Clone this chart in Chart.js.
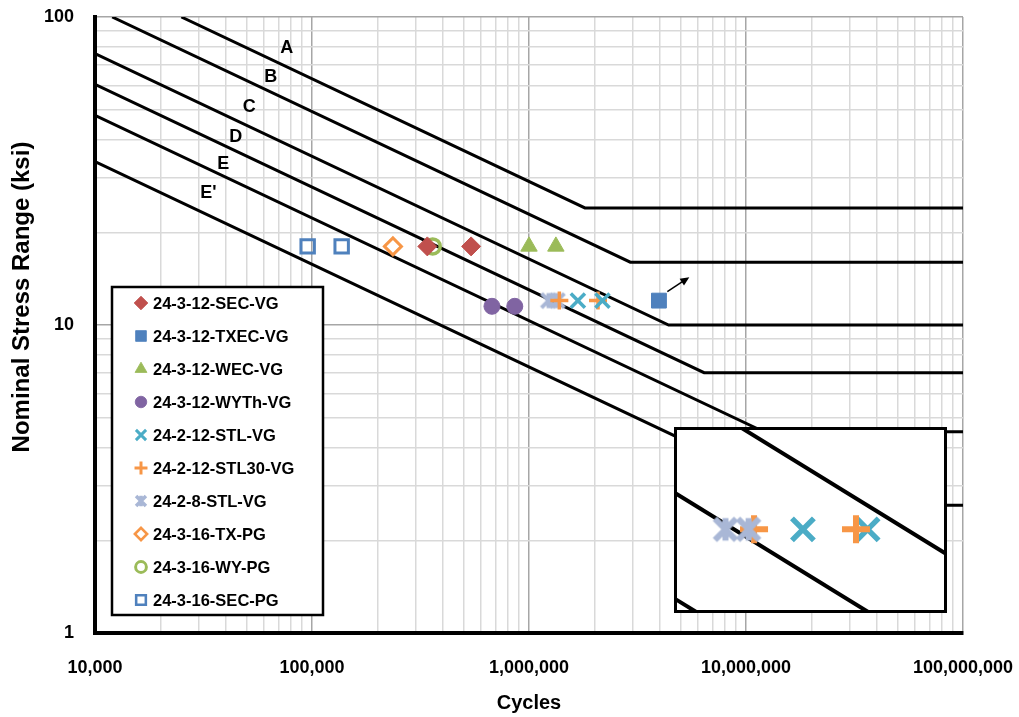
<!DOCTYPE html>
<html>
<head>
<meta charset="utf-8">
<script src="https://cdn.jsdelivr.net/npm/chart.js@4.4.1/dist/chart.umd.min.js"></script>
<style>
  body { margin: 0; background: #fff; }
  #wrap { position: relative; width: 1019px; height: 717px; }
  #inset { position: absolute; left: 674px; top: 427px; width: 273px; height: 186px; background: #fff; }
</style>
</head>
<body>
<div id="wrap">
  <canvas id="main" width="1019" height="717"></canvas>
  <div id="inset"><canvas id="zoom" width="273" height="186"></canvas></div>
</div>
<script>
// Datos: [ciclos, rango de esfuerzo (ksi)]
const secVG = [[3.4e5, 18], [5.41e5, 18]];
const txecVG = [[3.97e6, 12]];
const wecVG = [[1.0e6, 18], [1.33e6, 18]];
const wythVG = [[6.75e5, 11.5], [8.6e5, 11.5]];
const stlVG = [[1.68e6, 12], [2.18e6, 12]];
const stl30VG = [[1.38e6, 12], [2.08e6, 12]];
const stl8VG = [[1.23e6, 12], [1.35e6, 12]];
const txPG = [[2.36e5, 18]];
const wyPG = [[3.6e5, 18]];
const secPG = [[9.55e4, 18], [1.37e5, 18]];

// Curvas de fatiga por categoria (vertices)
const catA = [[2.5e4, 100], [1.81e6, 24], [1e8, 24]];
const catB = [[1.2e4, 100], [2.93e6, 16], [1e8, 16]];
const catC = [[1e4, 76.1], [4.4e6, 10], [1e8, 10]];
const catD = [[1e4, 60.4], [6.41e6, 7], [1e8, 7]];
const catE = [[1e4, 47.9], [1.21e7, 4.5], [1e8, 4.5]];
const catEp = [[1e4, 33.9], [2.22e7, 2.6], [1e8, 2.6]];

// Etiquetas de las categorias
const catNames = ["A", "B", "C", "D", "E", "E'"];
const catLabelN = [7.65e4, 6.45e4, 5.14e4, 4.45e4, 3.9e4, 3.33e4];
const catLabelS = [79.5, 63.7, 51.2, 40.9, 33.3, 26.9];

// Flecha (runout) del punto TXEC
const runoutFrom = [4.34e6, 12.83];
const runoutTo = [5.48e6, 14.3];

// Ejes
const xDecades = [1e4, 1e5, 1e6, 1e7, 1e8];
const xTickText = ["10,000", "100,000", "1,000,000", "10,000,000", "100,000,000"];
const yDecades = [1, 10, 100];
const yTickText = ["1", "10", "100"];

const FONT = "'Liberation Sans', Arial, sans-serif";

// Marcador tipo estrella de Excel (X con linea vertical)
function starMark(r, lw, color) {
    const c = document.createElement("canvas");
    const s = Math.ceil(2 * r + lw + 2);
    c.width = s; c.height = s;
    const g = c.getContext("2d");
    g.strokeStyle = color; g.lineWidth = lw;
    const m = s / 2, d = r * Math.SQRT1_2;
    g.beginPath();
    g.moveTo(m - d, m - d); g.lineTo(m + d, m + d);
    g.moveTo(m - d, m + d); g.lineTo(m + d, m - d);
    g.moveTo(m, m - d * 1.05); g.lineTo(m, m + d * 1.05);
    g.stroke();
    return c;
}

const toXY = arr => arr.map(p => ({ x: p[0], y: p[1] }));

// Estilo de cada serie
const seriesDefs = [
    { label: "24-3-12-SEC-VG", data: secVG, pointStyle: "rectRot", r: 9.5, bg: "#C0504D", bc: "#C0504D", bw: 1 },
    { label: "24-3-12-TXEC-VG", data: txecVG, pointStyle: "rect", r: 10.5, bg: "#4F81BD", bc: "#4F81BD", bw: 1 },
    { label: "24-3-12-WEC-VG", data: wecVG, pointStyle: "triangle", r: 9.5, bg: "#9BBB59", bc: "#9BBB59", bw: 1 },
    { label: "24-3-12-WYTh-VG", data: wythVG, pointStyle: "circle", r: 8, bg: "#8064A2", bc: "#8064A2", bw: 1 },
    { label: "24-2-12-STL-VG", data: stlVG, pointStyle: "crossRot", r: 10, bg: "#4BACC6", bc: "#4BACC6", bw: 3.5 },
    { label: "24-2-12-STL30-VG", data: stl30VG, pointStyle: "cross", r: 9, bg: "#F79646", bc: "#F79646", bw: 3.5 },
    { label: "24-2-8-STL-VG", data: stl8VG, pointStyle: starMark(10, 4, "#A9B7D6"), legendStyle: starMark(7, 3.5, "#A9B7D6"), r: 10, bg: "#A9B7D6", bc: "#A9B7D6", bw: 4 },
    { label: "24-3-16-TX-PG", data: txPG, pointStyle: "rectRot", r: 8.5, bg: "rgba(0,0,0,0)", bc: "#F79646", bw: 3 },
    { label: "24-3-16-WY-PG", data: wyPG, pointStyle: "circle", r: 7.5, bg: "rgba(0,0,0,0)", bc: "#9BBB59", bw: 3.5 },
    { label: "24-3-16-SEC-PG", data: secPG, pointStyle: "rect", r: 9.5, bg: "rgba(0,0,0,0)", bc: "#4F81BD", bw: 3 }
];

const markerSets = seriesDefs.map(d => ({
    label: d.label,
    data: toXY(d.data),
    showLine: false,
    pointStyle: d.pointStyle,
    pointRadius: d.r,
    pointHoverRadius: d.r,
    pointBackgroundColor: d.bg,
    pointBorderColor: d.bc,
    pointBorderWidth: d.bw,
    order: 0
}));

const lineSets = [catA, catB, catC, catD, catE, catEp].map(c => ({
    data: toXY(c),
    showLine: true,
    borderColor: "#000",
    borderWidth: 3,
    pointRadius: 0,
    tension: 0,
    order: 1
}));

function gridValues(lo, hi) {
    const out = [];
    for (let d = lo; d < hi; d *= 10) {
        for (let m = 1; m < 10; m++) out.push(m * d);
    }
    out.push(hi);
    return out;
}

// Leyenda dentro del area del grafico
const legendBox = {
    id: "legendBox",
    afterDraw(chart) {
        const ctx = chart.ctx;
        ctx.save();
        ctx.fillStyle = "#fff";
        ctx.fillRect(112, 287, 211, 328);
        ctx.lineWidth = 2.5;
        ctx.strokeStyle = "#000";
        ctx.strokeRect(112, 287, 211, 328);
        ctx.font = "bold 16.5px " + FONT;
        ctx.textBaseline = "middle";
        ctx.textAlign = "left";
        seriesDefs.forEach((d, i) => {
            const y = 303 + i * 33;
            ctx.fillStyle = d.bg;
            ctx.strokeStyle = d.bc;
            ctx.lineWidth = d.bw * 0.85;
            Chart.helpers.drawPoint(ctx, {
                pointStyle: d.legendStyle || d.pointStyle,
                radius: d.r * 0.72,
                rotation: 0,
                borderWidth: d.bw * 0.85
            }, 141, y);
            ctx.fillStyle = "#000";
            ctx.fillText(d.label, 153, y + 1);
        });
        ctx.restore();
    }
};

// Letras de las categorias, flecha y titulo del eje Y
const annotations = {
    id: "annotations",
    afterDatasetsDraw(chart) {
        const ctx = chart.ctx;
        const xs = chart.scales.x, ys = chart.scales.y;
        ctx.save();
        ctx.font = "bold 18px " + FONT;
        ctx.fillStyle = "#000";
        ctx.textAlign = "center";
        ctx.textBaseline = "middle";
        catNames.forEach((n, i) => {
            ctx.fillText(n, xs.getPixelForValue(catLabelN[i]), ys.getPixelForValue(catLabelS[i]));
        });

        const x1 = xs.getPixelForValue(runoutFrom[0]), y1 = ys.getPixelForValue(runoutFrom[1]);
        const x2 = xs.getPixelForValue(runoutTo[0]), y2 = ys.getPixelForValue(runoutTo[1]);
        const ang = Math.atan2(y2 - y1, x2 - x1);
        ctx.strokeStyle = "#000";
        ctx.lineWidth = 1.5;
        ctx.beginPath();
        ctx.moveTo(x1, y1);
        ctx.lineTo(x2 - 6 * Math.cos(ang), y2 - 6 * Math.sin(ang));
        ctx.stroke();
        ctx.beginPath();
        ctx.moveTo(x2, y2);
        ctx.lineTo(x2 - 9 * Math.cos(ang) + 4 * Math.sin(ang), y2 - 9 * Math.sin(ang) - 4 * Math.cos(ang));
        ctx.lineTo(x2 - 9 * Math.cos(ang) - 4 * Math.sin(ang), y2 - 9 * Math.sin(ang) + 4 * Math.cos(ang));
        ctx.closePath();
        ctx.fill();

        // titulo del eje Y (Excel lo coloca un poco por encima del centro)
        ctx.translate(22, 297);
        ctx.rotate(-Math.PI / 2);
        ctx.font = "bold 24px " + FONT;
        ctx.fillText("Nominal Stress Range (ksi)", 0, 0);
        ctx.restore();
    }
};

new Chart(document.getElementById("main"), {
    type: "scatter",
    data: { datasets: [...markerSets, ...lineSets] },
    options: {
        responsive: false,
        animation: false,
        layout: { autoPadding: false, padding: { left: 0, right: 56, top: 17, bottom: 0 } },
        plugins: { legend: { display: false }, tooltip: { enabled: false } },
        scales: {
            x: {
                type: "logarithmic",
                min: 1e4,
                max: 1e8,
                afterBuildTicks: s => { s.ticks = gridValues(1e4, 1e8).map(v => ({ value: v })); },
                afterFit: s => { s.height = 84; s.paddingLeft = 0; s.paddingRight = 0; },
                ticks: {
                    autoSkip: false,
                    maxRotation: 0,
                    padding: 24,
                    color: "#000",
                    font: { family: FONT, size: 18, weight: "bold" },
                    callback: v => { const i = xDecades.indexOf(v); return i >= 0 ? xTickText[i] : ""; }
                },
                grid: {
                    drawTicks: false,
                    lineWidth: 1.5,
                    color: c => (xDecades.includes(c.tick.value) ? "#A6A6A6" : "#D9D9D9")
                },
                border: { color: "#000", width: 4 },
                title: {
                    display: true,
                    text: "Cycles",
                    color: "#000",
                    font: { family: FONT, size: 20, weight: "bold" },
                    padding: { top: 0, bottom: 2 }
                }
            },
            y: {
                type: "logarithmic",
                min: 1,
                max: 100,
                afterBuildTicks: s => { s.ticks = gridValues(1, 100).map(v => ({ value: v })); },
                afterFit: s => { s.width = 95; s.paddingTop = 0; s.paddingBottom = 0; },
                ticks: {
                    autoSkip: false,
                    padding: 21,
                    color: "#000",
                    font: { family: FONT, size: 18, weight: "bold" },
                    callback: v => { const i = yDecades.indexOf(v); return i >= 0 ? yTickText[i] : ""; }
                },
                grid: {
                    drawTicks: false,
                    lineWidth: 1.5,
                    color: c => (yDecades.includes(c.tick.value) ? "#A6A6A6" : "#D9D9D9")
                },
                border: { color: "#000", width: 4 }
            }
        }
    },
    plugins: [annotations, legendBox]
});

// Recuadro ampliado (zoom de la zona 1e6 - 3e6 ciclos)
const insetBorder = {
    id: "insetBorder",
    afterDraw(chart) {
        const ctx = chart.ctx;
        ctx.save();
        ctx.strokeStyle = "#000";
        ctx.lineWidth = 3;
        ctx.strokeRect(1.5, 1.5, chart.width - 3, chart.height - 3);
        ctx.restore();
    }
};

const zoomMarkers = [
    { data: stl8VG, style: starMark(15, 6, "#A9B7D6"), r: 15, c: "#A9B7D6", bw: 6 },
    { data: stl30VG, style: "cross", r: 14, c: "#F79646", bw: 6 },
    { data: stlVG, style: "crossRot", r: 15.5, c: "#4BACC6", bw: 5.5 }
].map(d => ({
    data: toXY(d.data),
    showLine: false,
    pointStyle: d.style,
    pointRadius: d.r,
    pointBackgroundColor: d.c,
    pointBorderColor: d.c,
    pointBorderWidth: d.bw,
    order: 0
}));

const zoomLines = [catC, catD, catE].map(c => ({
    data: toXY(c),
    showLine: true,
    borderColor: "#000",
    borderWidth: 4,
    pointRadius: 0,
    order: 1
}));

new Chart(document.getElementById("zoom"), {
    type: "scatter",
    data: { datasets: [...zoomMarkers, ...zoomLines] },
    options: {
        responsive: false,
        animation: false,
        layout: { autoPadding: false, padding: 0 },
        plugins: { legend: { display: false }, tooltip: { enabled: false } },
        scales: {
            x: { type: "logarithmic", min: 1e6, max: 3e6, display: false },
            y: { type: "logarithmic", min: 10, max: 15, display: false }
        }
    },
    plugins: [insetBorder]
});
</script>
</body>
</html>
